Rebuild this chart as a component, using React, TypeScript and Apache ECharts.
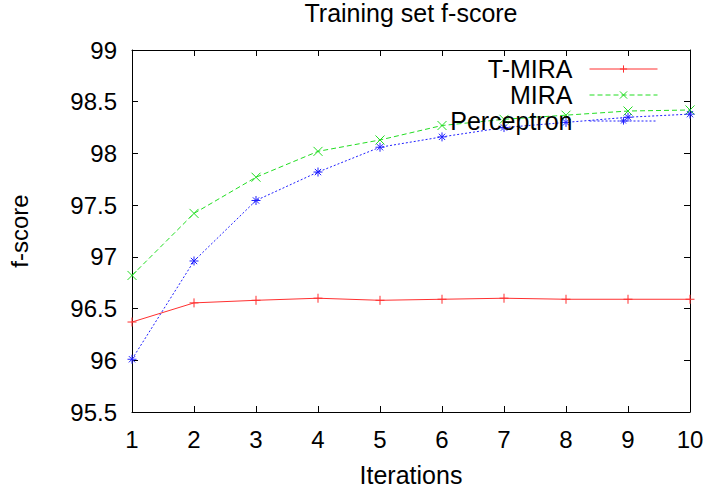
import React, { useEffect, useRef } from "react";
import * as echarts from "echarts";

const iterations = [1, 2, 3, 4, 5, 6, 7, 8, 9, 10];
const tmira = [96.37, 96.555, 96.58, 96.6, 96.58, 96.59, 96.6, 96.59, 96.59, 96.59];
const mira = [96.82, 97.42, 97.77, 98.02, 98.13, 98.27, 98.33, 98.37, 98.41, 98.42];
const perceptron = [96.01, 96.96, 97.545, 97.82, 98.06, 98.16, 98.25, 98.3, 98.35, 98.38];
const seriesNames = ["T-MIRA", "MIRA", "Perceptron"];

const FONT = "'Liberation Sans', Arial, Helvetica, sans-serif";

const PLUS = "path://M0,5L10,5M5,0L5,10";
const CROSS = "path://M0,0L10,10M0,10L10,0";
const STAR = "path://M0,5L10,5M5,0L5,10M1.5,1.5L8.5,8.5M1.5,8.5L8.5,1.5";

function pairs(vals: number[]) {
  return iterations.map((x, i) => [x, vals[i]]);
}

export default function App() {
  const ref = useRef<HTMLDivElement>(null);
  useEffect(() => {
    document.body.style.margin = "0";
    const chart = echarts.init(ref.current!, null, { renderer: "svg" });
    const axisCommon = {
      axisLine: { show: true, onZero: false, lineStyle: { color: "#000", width: 1 } },
      axisTick: { show: true, inside: true, length: 6, lineStyle: { color: "#000", width: 1 } },
      splitLine: { show: false },
    };
    const xBase = { type: "value", min: 1, max: 10, interval: 1, ...axisCommon };
    const yBase = { type: "value", min: 95.5, max: 99, interval: 0.5, ...axisCommon };
    const mk = (name: string, data: number[], color: string, symbol: string, type: any) => ({
      name,
      type: "line",
      data: pairs(data),
      xAxisIndex: 0,
      yAxisIndex: 0,
      symbol,
      symbolSize: 9,
      showSymbol: true,
      lineStyle: { color, width: 1, type },
      itemStyle: { color, borderColor: color, borderWidth: 1 },
      emphasis: { disabled: true },
    });
    chart.setOption({
      animation: false,
      textStyle: { fontFamily: FONT },
      title: {
        text: "Training set f-score",
        left: 411,
        textAlign: "center",
        top: 0,
        padding: 0,
        textStyle: { fontFamily: FONT, fontSize: 25, fontWeight: "normal", color: "#000" },
      },
      legend: {
        orient: "vertical",
        right: 50,
        top: 56,
        align: "right",
        itemWidth: 68,
        itemHeight: 9,
        itemGap: 0,
        padding: 0,
        data: seriesNames,
        lineStyle: { width: 1 },
        itemStyle: { borderWidth: 1 },
        textStyle: {
          fontFamily: FONT,
          fontSize: 25,
          color: "#000",
          lineHeight: 26,
          padding: [0, 12, 0, 0],
        },
      },
      grid: {
        left: 132,
        right: 18,
        top: 50,
        bottom: 75,
        containLabel: false,
        outerBoundsMode: "none",
      },
      xAxis: [
        {
          ...xBase,
          position: "bottom",
          name: "Iterations",
          nameLocation: "middle",
          nameGap: 50,
          nameTextStyle: { fontFamily: FONT, fontSize: 25, color: "#000" },
          axisLabel: { show: true, margin: 15, fontFamily: FONT, fontSize: 24, color: "#000" },
        },
        { ...xBase, position: "top", axisLabel: { show: false } },
      ],
      yAxis: [
        {
          ...yBase,
          position: "left",
          name: "f-score",
          nameLocation: "middle",
          nameGap: 101,
          nameRotate: 90,
          nameTextStyle: { fontFamily: FONT, fontSize: 24, color: "#000" },
          axisLabel: { show: true, margin: 15, fontFamily: FONT, fontSize: 24, color: "#000" },
        },
        { ...yBase, position: "right", axisLabel: { show: false } },
      ],
      series: [
        mk(seriesNames[0], tmira, "#ff3030", PLUS, "solid"),
        mk(seriesNames[1], mira, "#22dd22", CROSS, [5, 3]),
        mk(seriesNames[2], perceptron, "#2020ff", STAR, [2, 2]),
      ],
    });
    return () => chart.dispose();
  }, []);
  return <div ref={ref} style={{ width: 708, height: 487 }} />;
}
